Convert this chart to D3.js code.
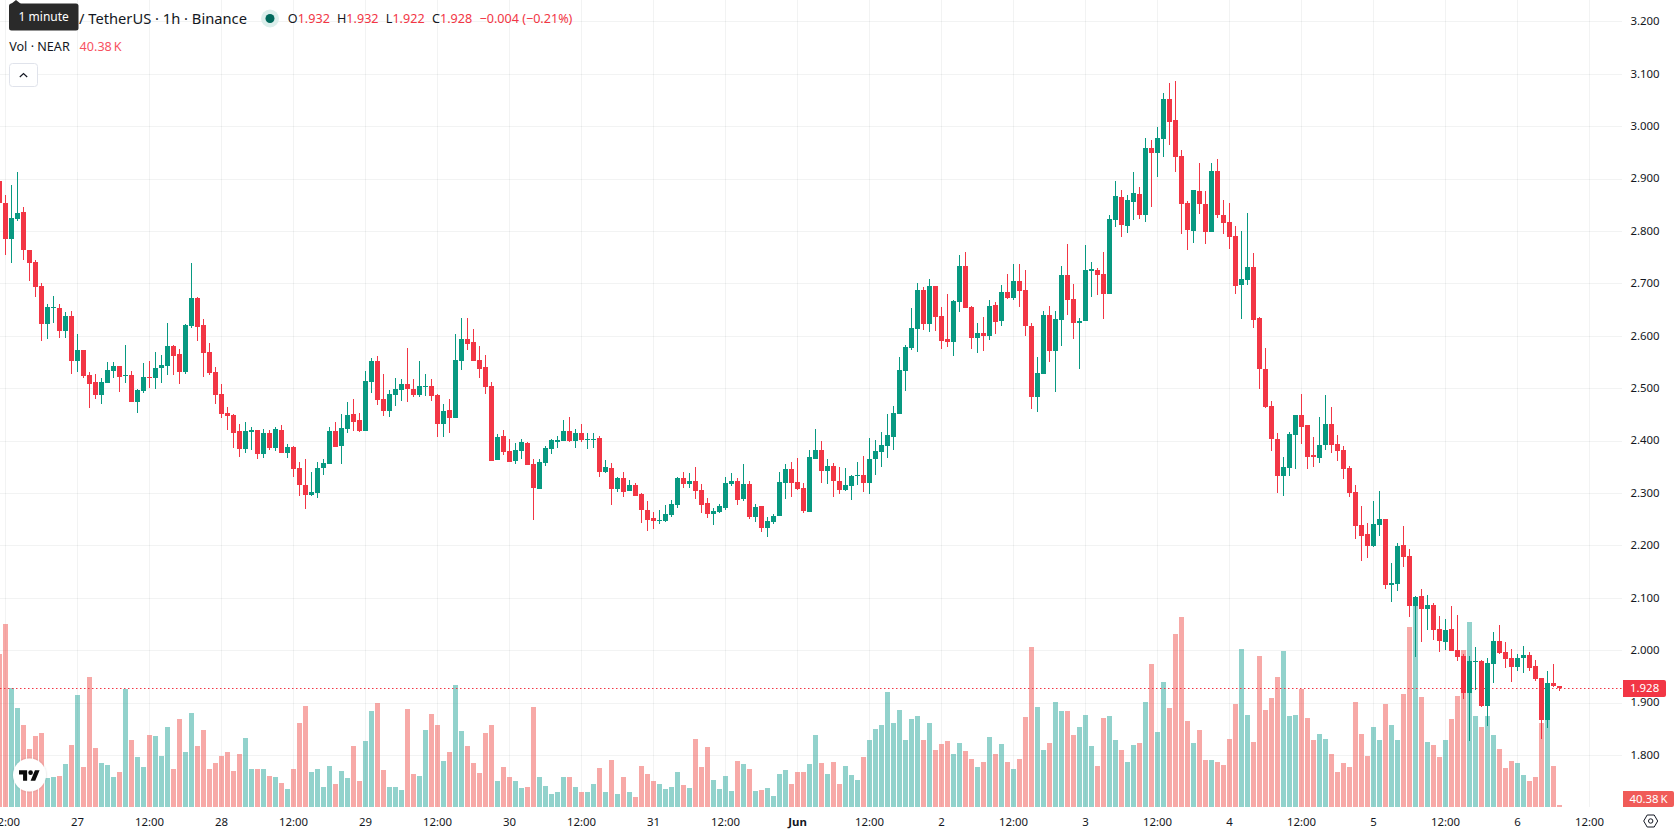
<!DOCTYPE html>
<html>
<head>
<meta charset="utf-8">
<script src="https://cdn.jsdelivr.net/npm/d3@7"></script>
<style>
  html, body { margin: 0; padding: 0; background: #fff; overflow: hidden; }
  svg { display: block; font-family: "Noto Sans", sans-serif; }
  text { font-family: "Noto Sans", sans-serif; }
</style>
</head>
<body>
<svg id="chart" width="1678" height="835"></svg>
<script>
// NEAR / USDT hourly candles, first bar is 26 May 11:00 UTC.
const firstBar = Date.UTC(2025, 4, 26, 11);

const opens = [
2.896,2.854,2.784,2.823,2.837,2.764,2.741,2.695,2.623,2.654,
2.653,2.609,2.638,2.552,2.573,2.525,2.512,2.487,2.510,2.533,
2.543,2.524,2.525,2.474,2.495,2.522,2.520,2.539,2.543,2.581,
2.566,2.531,2.619,2.672,2.621,2.569,2.531,2.489,2.453,2.449,
2.419,2.384,2.417,2.421,2.375,2.415,2.386,2.421,2.377,2.388,
2.348,2.316,2.297,2.300,2.348,2.356,2.419,2.390,2.422,2.451,
2.440,2.419,2.512,2.552,2.480,2.457,2.487,2.497,2.508,2.499,
2.487,2.503,2.504,2.487,2.432,2.459,2.443,2.552,2.594,2.588,
2.554,2.541,2.504,2.363,2.409,2.380,2.361,2.380,2.396,2.356,
2.308,2.358,2.384,2.398,2.400,2.419,2.400,2.415,2.402,2.402,
2.405,2.340,2.348,2.308,2.329,2.304,2.316,2.298,2.268,2.253,
2.248,2.247,2.258,2.277,2.329,2.317,2.323,2.306,2.281,2.260,
2.264,2.272,2.317,2.323,2.289,2.317,2.255,2.275,2.233,2.245,
2.256,2.319,2.346,2.321,2.310,2.264,2.365,2.382,2.342,2.352,
2.323,2.306,2.314,2.333,2.335,2.319,2.365,2.379,2.390,2.407,
2.451,2.533,2.577,2.613,2.688,2.623,2.695,2.638,2.594,2.588,
2.665,2.733,2.655,2.596,2.606,2.600,2.659,2.628,2.684,2.672,
2.705,2.688,2.619,2.483,2.527,2.640,2.571,2.630,2.716,2.670,
2.625,2.628,2.724,2.726,2.718,2.680,2.821,2.865,2.810,2.856,
2.871,2.831,2.959,2.949,2.976,3.052,3.012,2.943,2.854,2.800,
2.877,2.852,2.798,2.915,2.831,2.817,2.791,2.697,2.707,2.731,
2.634,2.537,2.466,2.403,2.333,2.348,2.411,2.449,2.430,2.373,
2.367,2.392,2.432,2.394,2.382,2.348,2.302,2.239,2.222,2.199,
2.239,2.251,2.125,2.127,2.201,2.180,2.085,2.104,2.079,2.087,
2.041,2.016,2.041,2.001,1.989,1.919,1.978,1.980,1.894,1.974,
2.018,1.997,1.985,1.968,1.985,1.991,1.970,1.947,1.867,1.938,
1.932];

const highs = [
2.896,2.869,2.888,2.913,2.846,2.764,2.745,2.701,2.661,2.676,
2.661,2.646,2.648,2.604,2.573,2.531,2.527,2.520,2.550,2.550,
2.543,2.583,2.533,2.499,2.548,2.552,2.569,2.564,2.625,2.583,
2.575,2.623,2.739,2.674,2.632,2.587,2.541,2.508,2.464,2.451,
2.432,2.436,2.426,2.421,2.422,2.421,2.426,2.430,2.394,2.390,
2.359,2.365,2.340,2.359,2.365,2.426,2.436,2.451,2.474,2.480,
2.453,2.533,2.558,2.562,2.527,2.497,2.520,2.518,2.577,2.518,
2.552,2.527,2.518,2.489,2.470,2.480,2.604,2.634,2.634,2.613,
2.581,2.564,2.512,2.413,2.421,2.403,2.396,2.403,2.398,2.365,
2.365,2.390,2.403,2.409,2.440,2.445,2.422,2.432,2.415,2.415,
2.409,2.363,2.358,2.331,2.340,2.325,2.319,2.300,2.285,2.264,
2.268,2.277,2.287,2.331,2.340,2.338,2.350,2.317,2.291,2.272,
2.279,2.331,2.338,2.329,2.356,2.323,2.279,2.275,2.255,2.260,
2.340,2.356,2.359,2.367,2.319,2.382,2.422,2.400,2.365,2.358,
2.350,2.348,2.335,2.359,2.371,2.405,2.401,2.417,2.451,2.466,
2.560,2.583,2.653,2.701,2.693,2.709,2.695,2.655,2.680,2.669,
2.754,2.760,2.657,2.625,2.636,2.669,2.665,2.697,2.718,2.737,
2.737,2.726,2.625,2.560,2.648,2.657,2.648,2.733,2.775,2.699,
2.634,2.773,2.741,2.730,2.760,2.831,2.896,2.878,2.869,2.913,
2.884,2.978,2.974,2.999,3.064,3.083,3.086,2.955,2.857,2.878,
2.930,2.877,2.930,2.938,2.859,2.854,2.810,2.800,2.835,2.758,
2.636,2.577,2.476,2.415,2.369,2.417,2.449,2.489,2.430,2.407,
2.445,2.487,2.464,2.411,2.390,2.352,2.315,2.275,2.243,2.285,
2.304,2.251,2.167,2.205,2.237,2.193,2.104,2.117,2.106,2.090,
2.065,2.060,2.085,2.067,1.993,1.989,2.006,1.982,1.985,2.035,
2.048,2.016,2.003,1.993,2.008,1.997,1.982,1.947,1.961,1.974,
1.932];

const lows = [
2.850,2.755,2.739,2.819,2.745,2.705,2.674,2.590,2.594,2.625,
2.596,2.596,2.527,2.531,2.520,2.463,2.480,2.470,2.510,2.520,
2.493,2.510,2.474,2.453,2.491,2.501,2.499,2.510,2.525,2.525,
2.508,2.527,2.615,2.590,2.522,2.525,2.470,2.443,2.421,2.386,
2.369,2.377,2.382,2.365,2.367,2.382,2.380,2.377,2.367,2.331,
2.295,2.270,2.295,2.291,2.335,2.356,2.388,2.356,2.415,2.419,
2.417,2.419,2.491,2.468,2.447,2.445,2.466,2.476,2.474,2.484,
2.484,2.485,2.476,2.407,2.407,2.415,2.443,2.535,2.573,2.552,
2.520,2.489,2.361,2.363,2.373,2.359,2.356,2.365,2.354,2.249,
2.308,2.352,2.375,2.386,2.400,2.398,2.386,2.398,2.384,2.386,
2.331,2.338,2.277,2.302,2.293,2.304,2.295,2.243,2.228,2.232,
2.241,2.245,2.255,2.272,2.310,2.310,2.289,2.262,2.253,2.239,
2.262,2.268,2.314,2.277,2.285,2.251,2.245,2.226,2.216,2.241,
2.256,2.289,2.293,2.306,2.262,2.264,2.365,2.319,2.317,2.293,
2.298,2.304,2.287,2.315,2.302,2.298,2.335,2.350,2.367,2.382,
2.451,2.495,2.573,2.569,2.611,2.607,2.609,2.575,2.579,2.562,
2.646,2.653,2.575,2.567,2.571,2.592,2.604,2.619,2.670,2.669,
2.655,2.600,2.461,2.455,2.527,2.550,2.493,2.581,2.640,2.594,
2.537,2.628,2.674,2.678,2.632,2.680,2.808,2.789,2.796,2.821,
2.823,2.817,2.846,2.903,2.941,2.964,2.913,2.794,2.764,2.777,
2.833,2.775,2.798,2.825,2.794,2.766,2.680,2.632,2.697,2.615,
2.499,2.462,2.380,2.300,2.295,2.333,2.346,2.394,2.346,2.350,
2.357,2.382,2.376,2.361,2.327,2.293,2.212,2.170,2.176,2.197,
2.218,2.117,2.092,2.113,2.159,2.064,1.987,2.016,2.039,2.020,
1.997,2.001,1.999,1.980,1.907,1.827,1.924,1.892,1.856,1.938,
1.993,1.966,1.940,1.961,1.957,1.961,1.941,1.831,1.852,1.930,
1.922];

const closes = [
2.854,2.784,2.825,2.835,2.763,2.739,2.693,2.623,2.655,2.655,
2.609,2.638,2.552,2.573,2.524,2.508,2.487,2.512,2.535,2.543,
2.522,2.525,2.474,2.497,2.522,2.520,2.539,2.545,2.581,2.562,
2.531,2.621,2.672,2.617,2.567,2.529,2.487,2.451,2.447,2.415,
2.384,2.419,2.421,2.375,2.415,2.386,2.422,2.377,2.388,2.346,
2.316,2.297,2.302,2.348,2.357,2.419,2.388,2.424,2.449,2.436,
2.419,2.514,2.552,2.478,2.457,2.489,2.499,2.508,2.499,2.487,
2.504,2.504,2.485,2.432,2.457,2.443,2.554,2.594,2.585,2.552,
2.537,2.503,2.361,2.407,2.379,2.359,2.382,2.398,2.354,2.310,
2.359,2.386,2.401,2.401,2.419,2.400,2.415,2.401,2.403,2.403,
2.340,2.350,2.308,2.329,2.302,2.316,2.295,2.268,2.249,2.247,
2.249,2.260,2.279,2.329,2.317,2.323,2.304,2.277,2.260,2.266,
2.275,2.319,2.323,2.287,2.317,2.255,2.274,2.233,2.247,2.256,
2.321,2.346,2.319,2.308,2.266,2.369,2.382,2.342,2.352,2.323,
2.306,2.315,2.333,2.335,2.319,2.365,2.380,2.392,2.411,2.453,
2.535,2.579,2.615,2.688,2.623,2.695,2.636,2.590,2.588,2.667,
2.733,2.653,2.596,2.606,2.600,2.657,2.627,2.684,2.672,2.705,
2.686,2.619,2.483,2.529,2.640,2.571,2.632,2.716,2.669,2.625,
2.628,2.726,2.728,2.716,2.680,2.823,2.867,2.812,2.859,2.873,
2.831,2.959,2.949,2.978,3.052,3.008,2.941,2.852,2.802,2.878,
2.852,2.798,2.915,2.831,2.815,2.789,2.695,2.709,2.731,2.630,
2.537,2.464,2.403,2.333,2.350,2.413,2.449,2.426,2.369,2.369,
2.392,2.432,2.392,2.380,2.346,2.300,2.237,2.218,2.199,2.241,
2.251,2.125,2.128,2.199,2.178,2.085,2.102,2.079,2.087,2.039,
2.018,2.039,1.999,1.987,1.919,1.980,1.980,1.894,1.976,2.018,
1.995,1.983,1.968,1.985,1.991,1.966,1.945,1.867,1.938,1.932,
1.928];

// Traded volume per bar, in thousands of NEAR.
const volumes = [
3089,3695,2403,1999,1656,1171,1433,1494,585,606,
626,868,1252,2261,808,2625,1191,888,848,606,
707,2382,1353,1010,808,1454,1433,1030,1615,767,
1777,1110,1898,1232,1555,767,888,1030,1110,727,
1070,1393,767,767,767,626,606,485,363,767,
1696,2039,707,767,404,828,464,727,585,1232,
525,1333,1938,2100,747,404,404,343,1979,666,
626,1555,1878,1656,929,1110,2463,1534,1232,888,
686,1494,1656,525,808,606,525,384,404,2019,
606,424,262,303,606,606,404,303,303,464,
787,303,949,262,606,303,202,828,666,525,
464,363,404,707,444,384,1373,808,1211,545,
363,626,323,929,868,767,323,343,384,222,
666,747,464,707,707,868,1454,888,666,909,
464,828,646,545,1010,1353,1575,1656,2322,1696,
1958,1353,1777,1837,1353,1696,1151,1272,1333,1070,
1292,1131,969,808,909,1413,1070,1272,909,767,
969,1817,3230,2019,1151,1292,2120,1938,1938,1454,
1615,1857,1232,828,1797,1837,1353,1151,909,1252,
1292,2120,2887,1514,2524,1999,3493,3836,1736,1292,
1555,949,949,909,848,1373,2080,3190,1857,1312,
3049,1958,2201,2625,3150,1837,1857,2382,1797,1353,
1474,1373,1070,707,888,808,2120,1474,1030,1615,
1353,2080,1656,1353,2282,3634,4119,2221,1312,1252,
1010,1353,1777,2241,3170,3735,1837,1615,1837,1454,
1171,787,929,888,646,525,606,1696,1757,828,
40.38];

const priceTicks = [3.2,3.1,3.0,2.9,2.8,2.7,2.6,2.5,2.4,2.3,2.2,2.1,2.0,1.9,1.8];

// 12-hourly time labels from 26 May 12:00 to 6 Jun 12:00.
const timeTicks = d3.range(0, 23).map(k => new Date(Date.UTC(2025, 4, 26, 12) + k * 12 * 3600e3));

const lastPrice = 1.928;
const lastVolume = 40.38;
const titleText = "/ TetherUS · 1h · Binance";
const ohlcLabels = [["O", "1.932"], ["H", "1.932"], ["L", "1.922"], ["C", "1.928"]];
const changeText = "−0.004 (−0.21%)";

const UP = "#089981", DOWN = "#F23645";
const VOL_UP = "rgba(38,166,154,0.5)", VOL_DOWN = "rgba(239,83,80,0.5)";
const GRID = "rgba(42,46,57,0.06)", INK = "#131722";
const FONT_SIZE = 11.4;
const LEGEND_SIZE = 12.6;

const paneRight = 1622, paneBottom = 807;

const bars = opens.map((o, i) => ({
  t: new Date(firstBar + i * 3600e3),
  o, h: highs[i], l: lows[i], c: closes[i], v: volumes[i]
}));

// One hour is 6px; one unit of price is 524px.
const x = d3.scaleUtc()
  .domain([new Date(Date.UTC(2025, 4, 26, 12)), new Date(Date.UTC(2025, 5, 6, 12))])
  .range([5.5, 5.5 + 6 * 264]);
const y = d3.scaleLinear().domain([2, 3]).range([650.3, 126.3]);
const yVol = d3.scaleLinear().domain([0, 4038]).range([paneBottom, paneBottom - 200]);

const svg = d3.select("#chart");
svg.append("rect").attr("width", 1678).attr("height", 835).attr("fill", "#fff");

// Grid
const grid = svg.append("g").attr("shape-rendering", "crispEdges");
grid.selectAll("rect.v").data(timeTicks).join("rect").attr("class", "v")
  .attr("x", d => Math.floor(x(d))).attr("y", 0)
  .attr("width", 1).attr("height", paneBottom).attr("fill", GRID);
grid.selectAll("rect.h").data(priceTicks).join("rect").attr("class", "h")
  .attr("x", 0).attr("y", d => Math.round(y(d)))
  .attr("width", paneRight).attr("height", 1).attr("fill", GRID);

// Volume columns
const marks = svg.append("g").attr("shape-rendering", "crispEdges");
marks.append("g").selectAll("rect").data(bars).join("rect")
  .attr("x", d => Math.floor(x(d.t)) - 2)
  .attr("width", 5)
  .attr("y", d => Math.round(yVol(d.v)))
  .attr("height", d => paneBottom - Math.round(yVol(d.v)))
  .attr("fill", d => d.c >= d.o ? VOL_UP : VOL_DOWN);

// Last price line
svg.append("line")
  .attr("x1", 0).attr("x2", paneRight)
  .attr("y1", Math.round(y(lastPrice)) + 0.5).attr("y2", Math.round(y(lastPrice)) + 0.5)
  .attr("stroke", DOWN).attr("stroke-width", 1).attr("stroke-dasharray", "1.5 2.5");

// Candles: wick under a 5px body
const candles = svg.append("g").attr("shape-rendering", "crispEdges");
const candle = candles.selectAll("g").data(bars).join("g")
  .attr("fill", d => d.c >= d.o ? UP : DOWN);
candle.append("rect")
  .attr("x", d => Math.floor(x(d.t))).attr("width", 1)
  .attr("y", d => Math.round(y(d.h)))
  .attr("height", d => Math.max(1, Math.round(y(d.l)) - Math.round(y(d.h))));
candle.append("rect")
  .attr("x", d => Math.floor(x(d.t)) - 2).attr("width", 5)
  .attr("y", d => Math.round(y(Math.max(d.o, d.c))))
  .attr("height", d => Math.max(1, Math.round(y(Math.min(d.o, d.c))) - Math.round(y(Math.max(d.o, d.c)))));

// Axes
const priceAxis = svg.append("g").attr("transform", "translate(1659.5,0)")
  .call(d3.axisRight(y).tickValues(priceTicks).tickSize(0).tickFormat(d3.format(".3f")).offset(0));
priceAxis.select(".domain").remove();
priceAxis.selectAll("text").attr("x", 0).attr("text-anchor", "end")
  .attr("font-size", FONT_SIZE).attr("fill", INK).attr("font-family", null);

const timeLabel = d => d.getUTCHours() === 12 ? "12:00"
  : (d.getUTCDate() === 1 ? d3.utcFormat("%b")(d) : String(d.getUTCDate()));
const timeAxis = svg.append("g").attr("transform", `translate(0,${paneBottom})`)
  .call(d3.axisBottom(x).tickValues(timeTicks).tickSize(0).tickFormat(timeLabel).offset(0));
timeAxis.select(".domain").remove();
timeAxis.selectAll("text").attr("y", 14.8).attr("dy", "0.34em")
  .attr("font-size", FONT_SIZE).attr("fill", INK).attr("font-family", null)
  .attr("font-weight", d => (d.getUTCDate() === 1 && d.getUTCHours() === 0) ? 700 : 400);

// Price scale badges
const badge = (w, top, bottom, fill, label, cx) => {
  svg.append("path")
    .attr("d", `M1623,${top}H${1623 + w - 2}a2,2 0 0 1 2,2V${bottom - 2}a2,2 0 0 1 -2,2H1623Z`)
    .attr("fill", fill);
  svg.append("text").attr("x", cx).attr("y", (top + bottom) / 2).attr("dy", "0.34em")
    .attr("text-anchor", "middle").attr("font-size", FONT_SIZE).attr("fill", "#fff").text(label);
};
badge(43, 680, 697, DOWN, d3.format(".3f")(lastPrice), 1644.6);
badge(51, 791, 807, "#F05B58", `${lastVolume}\u2009K`, 1648.5);

// Settings icon on the axis corner
const icon = svg.append("g").attr("transform", "translate(1650.7,821)")
  .attr("fill", "none").attr("stroke", INK).attr("stroke-width", 1);
icon.append("path").attr("d", "M-7,0L-3.5,-6H3.5L7,0L3.5,6H-3.5Z").attr("stroke-linejoin", "round");
icon.append("circle").attr("r", 2.2);

// Legend lines
svg.append("text").attr("x", 79).attr("y", 19).attr("dy", "0.34em")
  .attr("font-size", 14.7).attr("fill", INK).text(titleText);

svg.append("circle").attr("cx", 270).attr("cy", 18.5).attr("r", 9).attr("fill", "#DCEFEC");
svg.append("circle").attr("cx", 270).attr("cy", 18.5).attr("r", 4.5).attr("fill", "#00695C");

const ohlcX = [287.8, 337, 385.8, 432];
ohlcLabels.forEach(([k, v], i) => {
  const t = svg.append("text").attr("x", ohlcX[i]).attr("y", 19).attr("dy", "0.34em").attr("font-size", LEGEND_SIZE);
  t.append("tspan").attr("fill", INK).text(k);
  t.append("tspan").attr("fill", DOWN).text(v);
});
svg.append("text").attr("x", 479.5).attr("y", 19).attr("dy", "0.34em")
  .attr("font-size", LEGEND_SIZE).attr("fill", DOWN).text(changeText);

svg.append("text").attr("x", 9.2).attr("y", 46.7).attr("dy", "0.34em")
  .attr("font-size", LEGEND_SIZE).attr("fill", INK).text("Vol · NEAR");
svg.append("text").attr("x", 79.6).attr("y", 46.7).attr("dy", "0.34em")
  .attr("font-size", LEGEND_SIZE).attr("fill", "#F7525F").text(`${lastVolume}\u2009K`);

// Collapse button
svg.append("rect").attr("x", 9.5).attr("y", 63.5).attr("width", 28).attr("height", 23).attr("rx", 3)
  .attr("fill", "#fff").attr("stroke", "#E0E3EB");
svg.append("path").attr("d", "M19.8,77L23.5,73.5L27.2,77")
  .attr("fill", "none").attr("stroke", INK).attr("stroke-width", 1.2);

// Tooltip over the legend
svg.append("path").attr("d", "M11,4L16,0L21,4Z").attr("fill", "#2A2A2A");
svg.append("rect").attr("x", 9).attr("y", 3.5).attr("width", 69.5).attr("height", 27).attr("rx", 2.5).attr("fill", "#2A2A2A");
svg.append("text").attr("x", 43.7).attr("y", 17).attr("dy", "0.34em").attr("text-anchor", "middle")
  .attr("font-size", 12).attr("fill", "#fff").text("1 minute");

// Logo badge
const defs = svg.append("defs");
const blur = defs.append("filter").attr("id", "logo-shadow").attr("x", "-30%").attr("y", "-30%").attr("width", "160%").attr("height", "160%");
blur.append("feDropShadow").attr("dx", 0).attr("dy", 0).attr("stdDeviation", 1.2).attr("flood-color", "#000").attr("flood-opacity", 0.18);
svg.append("circle").attr("cx", 29.5).attr("cy", 775).attr("r", 16.5).attr("fill", "#fff").attr("filter", "url(#logo-shadow)");
const logo = svg.append("g").attr("transform", "translate(19,768) scale(0.58)").attr("fill", "#0b0b0b");
logo.append("path").attr("d", "M14 22H7V11H0V4h14v18zM28 22h-8l7.5-18h8L28 22z");
logo.append("circle").attr("cx", 20).attr("cy", 8).attr("r", 4);
</script>
</body>
</html>
